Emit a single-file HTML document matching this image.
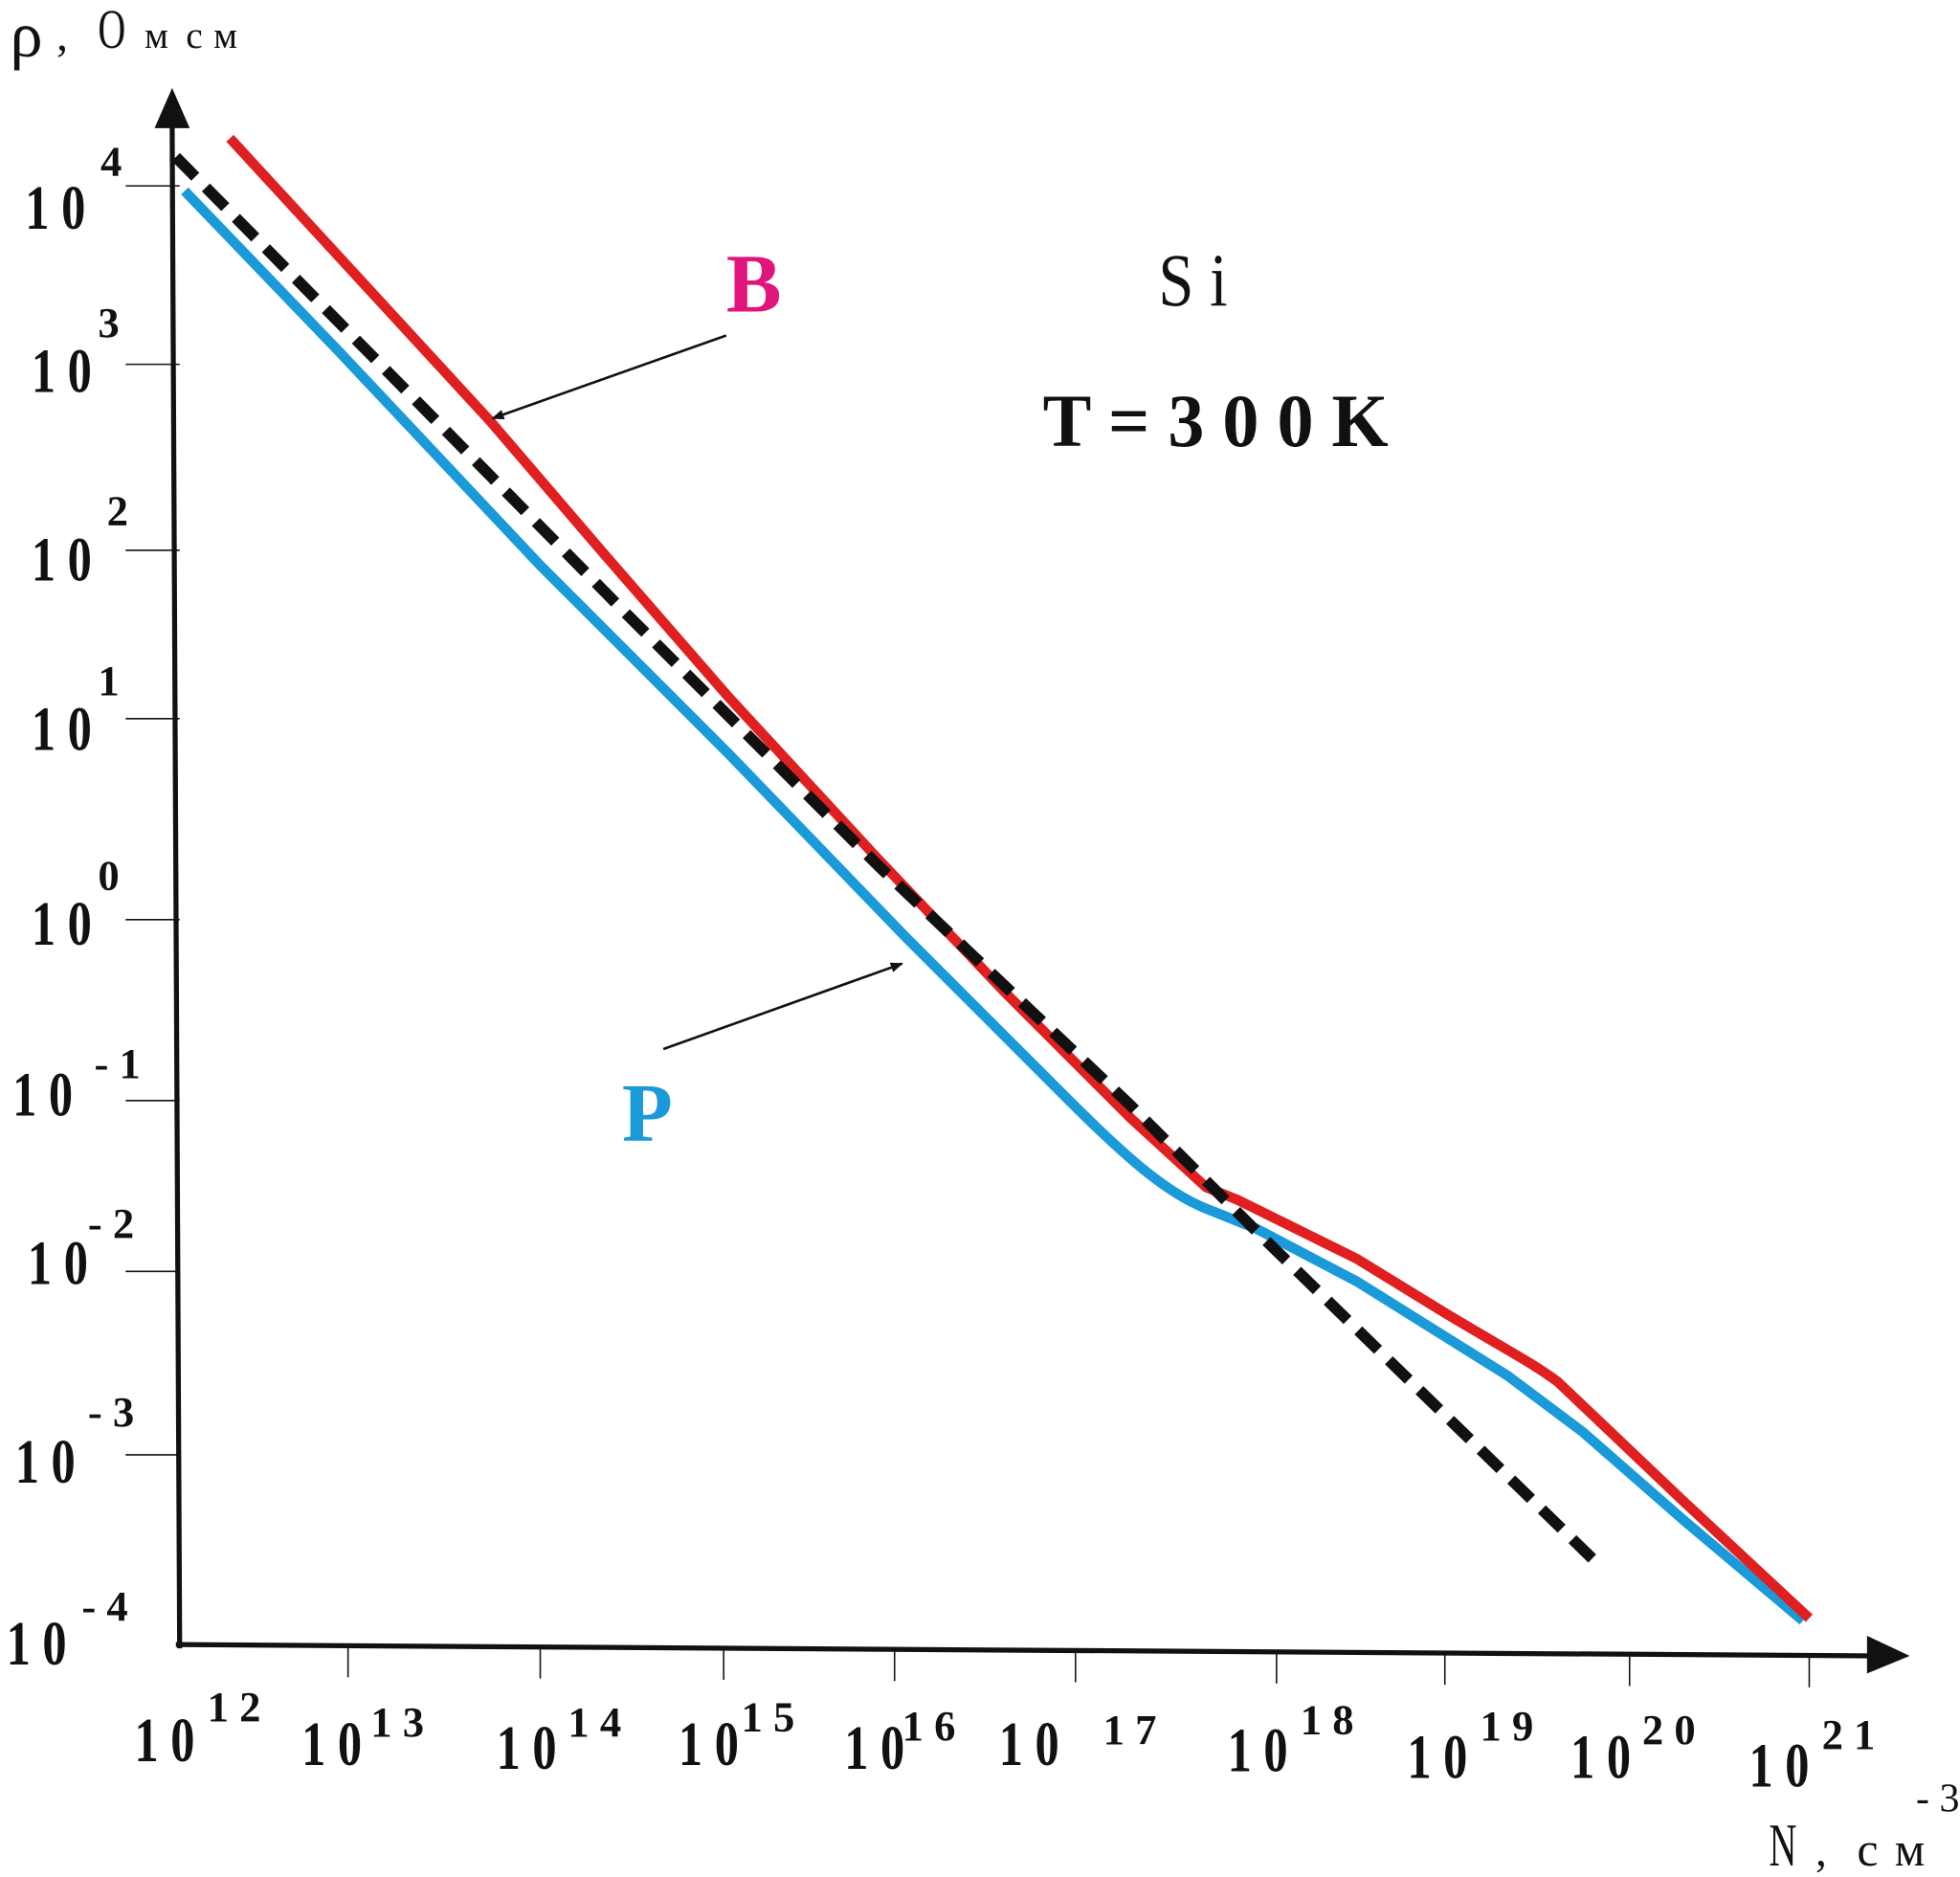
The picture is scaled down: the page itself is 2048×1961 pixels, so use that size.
<!DOCTYPE html>
<html><head><meta charset="utf-8"><style>
html,body{margin:0;padding:0;background:#fff}
svg{display:block}
text{font-family:"Liberation Serif",serif;fill:#111}
</style></head><body>
<svg width="2048" height="1961" viewBox="0 0 1560 1494" preserveAspectRatio="none" xmlns="http://www.w3.org/2000/svg">
<defs>
<marker id="ah" markerWidth="10" markerHeight="8" refX="9" refY="4" orient="auto" markerUnits="userSpaceOnUse"><path d="M0,0 L10,4 L0,8 Z" fill="#111"/></marker>
</defs>
<path d="M143,1312 L137,95" stroke="#111" stroke-width="4" fill="none"/>
<path d="M137,70 L123,102 L151,102 Z" fill="#111"/>
<path d="M140,1309 L1492,1318" stroke="#111" stroke-width="4" fill="none"/>
<path d="M1520,1318 L1486,1302 L1486,1332 Z" fill="#111"/>
<g stroke="#111" stroke-width="1.2">
<line x1="100" y1="148" x2="143" y2="148"/>
<line x1="100" y1="290" x2="143" y2="290"/>
<line x1="100" y1="438" x2="143" y2="438"/>
<line x1="100" y1="572" x2="143" y2="572"/>
<line x1="100" y1="732" x2="143" y2="732"/>
<line x1="100" y1="876" x2="143" y2="876"/>
<line x1="100" y1="1012" x2="143" y2="1012"/>
<line x1="100" y1="1158" x2="143" y2="1158"/>
<line x1="277" y1="1310" x2="277" y2="1335"/>
<line x1="430" y1="1311" x2="430" y2="1336"/>
<line x1="576" y1="1312" x2="576" y2="1337"/>
<line x1="712" y1="1313" x2="712" y2="1338"/>
<line x1="856" y1="1314" x2="856" y2="1339"/>
<line x1="1016" y1="1315" x2="1016" y2="1340"/>
<line x1="1150" y1="1316" x2="1150" y2="1341"/>
<line x1="1297" y1="1317" x2="1297" y2="1342"/>
<line x1="1440" y1="1318" x2="1440" y2="1343"/>
</g>
<g font-size="50" font-weight="bold">
<text x="20" y="182" textLength="48" lengthAdjust="spacingAndGlyphs">1 0</text><text x="80" y="140" font-size="34">4</text>
<text x="25" y="312" textLength="48" lengthAdjust="spacingAndGlyphs">1 0</text><text x="78" y="268" font-size="34">3</text>
<text x="25" y="462" textLength="48" lengthAdjust="spacingAndGlyphs">1 0</text><text x="85" y="418" font-size="34">2</text>
<text x="25" y="597" textLength="48" lengthAdjust="spacingAndGlyphs">1 0</text><text x="78" y="553" font-size="34">1</text>
<text x="25" y="752" textLength="48" lengthAdjust="spacingAndGlyphs">1 0</text><text x="78" y="708" font-size="34">0</text>
<text x="10" y="888" textLength="48" lengthAdjust="spacingAndGlyphs">1 0</text><text x="75" y="858" font-size="34">- 1</text>
<text x="22" y="1022" textLength="48" lengthAdjust="spacingAndGlyphs">1 0</text><text x="70" y="985" font-size="34">- 2</text>
<text x="12" y="1180" textLength="48" lengthAdjust="spacingAndGlyphs">1 0</text><text x="70" y="1135" font-size="34">- 3</text>
<text x="5" y="1325" textLength="48" lengthAdjust="spacingAndGlyphs">1 0</text><text x="65" y="1290" font-size="34">- 4</text>
</g>
<g font-size="50" font-weight="bold">
<text x="107" y="1402" textLength="48" lengthAdjust="spacingAndGlyphs">1 0</text><text x="165" y="1370" font-size="34">1 2</text>
<text x="240" y="1405" textLength="48" lengthAdjust="spacingAndGlyphs">1 0</text><text x="295" y="1382" font-size="34">1 3</text>
<text x="395" y="1408" textLength="48" lengthAdjust="spacingAndGlyphs">1 0</text><text x="452" y="1382" font-size="34">1 4</text>
<text x="540" y="1405" textLength="48" lengthAdjust="spacingAndGlyphs">1 0</text><text x="590" y="1378" font-size="34">1 5</text>
<text x="672" y="1408" textLength="48" lengthAdjust="spacingAndGlyphs">1 0</text><text x="718" y="1385" font-size="34">1 6</text>
<text x="795" y="1405" textLength="48" lengthAdjust="spacingAndGlyphs">1 0</text><text x="878" y="1388" font-size="34">1 7</text>
<text x="977" y="1410" textLength="48" lengthAdjust="spacingAndGlyphs">1 0</text><text x="1035" y="1380" font-size="34">1 8</text>
<text x="1120" y="1415" textLength="48" lengthAdjust="spacingAndGlyphs">1 0</text><text x="1178" y="1385" font-size="34">1 9</text>
<text x="1250" y="1415" textLength="48" lengthAdjust="spacingAndGlyphs">1 0</text><text x="1307" y="1388" font-size="34">2 0</text>
<text x="1392" y="1422" textLength="48" lengthAdjust="spacingAndGlyphs">1 0</text><text x="1450" y="1392" font-size="34">2 1</text>
</g>
<text x="8" y="45" font-size="52">ρ</text>
<text x="45" y="40" font-size="36">,</text>
<text x="78" y="38" font-size="44" textLength="22" lengthAdjust="spacingAndGlyphs">О</text>
<text x="115" y="38" font-size="30">м</text>
<text x="148" y="38" font-size="30">с</text>
<text x="170" y="38" font-size="30">м</text>
<text x="1408" y="1485" font-size="48" textLength="22" lengthAdjust="spacingAndGlyphs">N</text>
<text x="1445" y="1485" font-size="36">,</text>
<text x="1478" y="1485" font-size="38">с</text>
<text x="1508" y="1485" font-size="38">м</text>
<text x="1525" y="1442" font-size="32">- 3</text>
<text x="922" y="243" font-size="60" textLength="55" lengthAdjust="spacingAndGlyphs">S i</text>
<text x="830" y="355" font-size="60" font-weight="bold" textLength="275" lengthAdjust="spacingAndGlyphs">T = 3 0 0 K</text>
<text x="578" y="248" font-size="66" font-weight="bold" style="fill:#e0147a">B</text>
<text x="495" y="908" font-size="66" font-weight="bold" style="fill:#1a9ad8">P</text>
<path d="M147,152 L270,280 L430,450 L580,600 L720,745 L850,875 C900,925 930,950 960,962 L1000,978 L1080,1020 L1200,1095 L1260,1140 L1340,1210 L1435,1290" stroke="#1a9ad8" stroke-width="8" fill="none"/>
<path d="M183,110 L390,335 L480,440 L580,555 L700,685 L800,790 L900,890 L960,945 L985,955 L1080,1002 L1150,1045 C1200,1075 1220,1085 1240,1100 L1340,1195 L1440,1288" stroke="#e02020" stroke-width="8" fill="none"/>
<path d="M140,125 L500,490 L700,690 L900,880 L1000,980 L1275,1248" stroke="#111" stroke-width="9" stroke-dasharray="22,12" fill="none"/>
<line x1="578" y1="267" x2="392" y2="333" stroke="#111" stroke-width="2" marker-end="url(#ah)"/>
<line x1="528" y1="835" x2="718" y2="767" stroke="#111" stroke-width="2" marker-end="url(#ah)"/>
</svg>
</body></html>
